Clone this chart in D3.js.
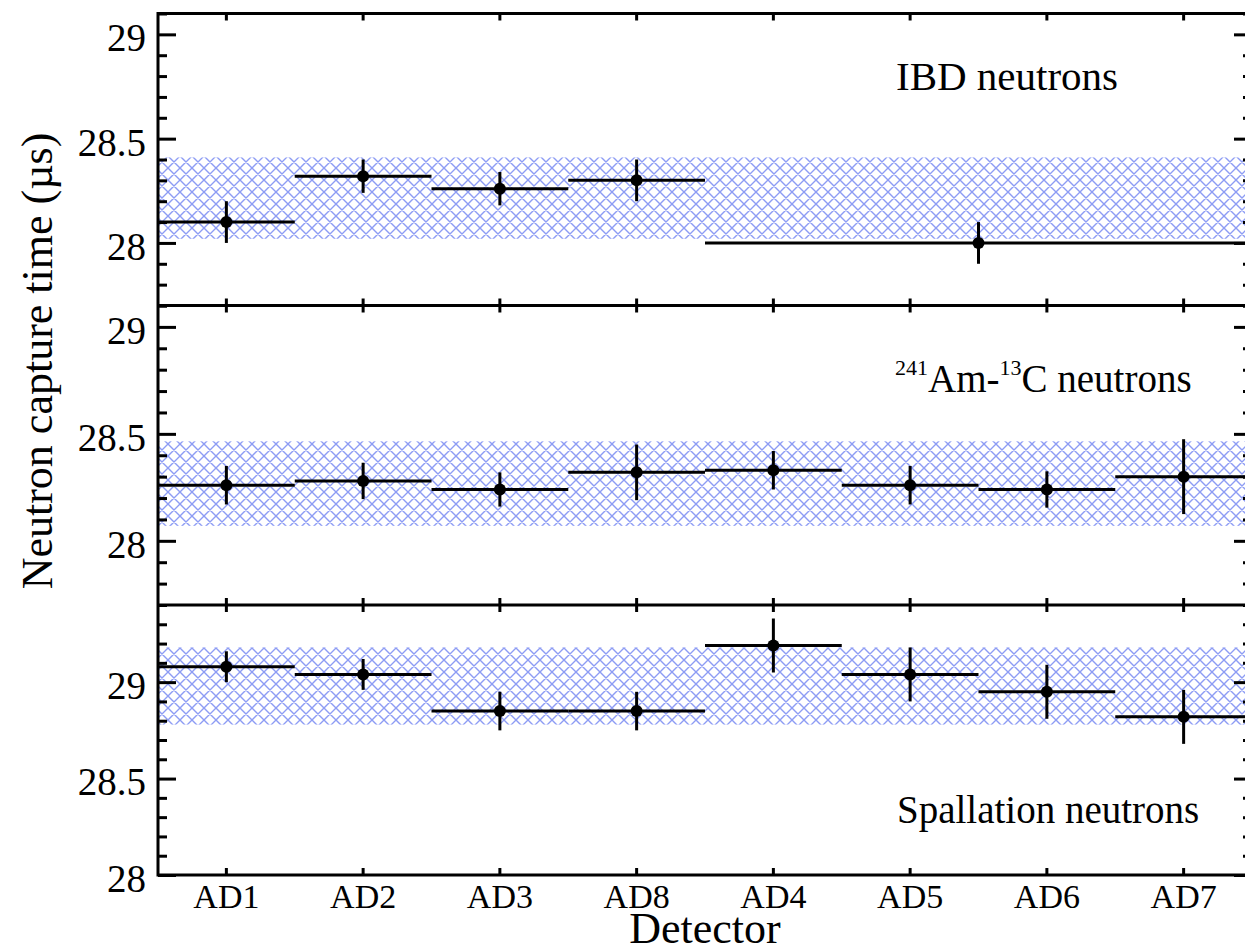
<!DOCTYPE html>
<html>
<head>
<meta charset="utf-8">
<script src="https://cdn.jsdelivr.net/npm/d3@7"></script>
<style>
  body { margin: 0; background: #fff; }
  text { font-family: "Liberation Serif", "Times New Roman", serif; fill: #000; }
</style>
</head>
<body>
<div id="chart"></div>
<script>
// detectors in plotting order
var detectors = ["AD1", "AD2", "AD3", "AD8", "AD4", "AD5", "AD6", "AD7"];

// IBD: AD4-AD7 only have one combined measurement
var ibdFrom = ["AD1", "AD2", "AD3", "AD8", "AD4"];
var ibdTo = ["AD1", "AD2", "AD3", "AD8", "AD7"];
var ibdValue = [28.10, 28.32, 28.26, 28.30, 28.00];
var ibdError = [0.10, 0.08, 0.08, 0.10, 0.10];
var ibdBand = [28.02, 28.41];

// 241Am-13C source
var amcValue = [28.26, 28.28, 28.24, 28.32, 28.33, 28.26, 28.24, 28.30];
var amcError = [0.09, 0.085, 0.08, 0.13, 0.09, 0.09, 0.085, 0.175];
var amcBand = [28.07, 28.465];

// spallation
var splValue = [29.08, 29.04, 28.85, 28.85, 29.19, 29.04, 28.95, 28.82];
var splError = [0.08, 0.08, 0.10, 0.10, 0.14, 0.14, 0.14, 0.14];
var splBand = [28.78, 29.18];

var majorTicks = [28, 28.5, 29];

var width = 1245, height = 947;
var left = 158, right = 1252;

var svg = d3.select("#chart")
  .append("svg")
  .attr("width", width)
  .attr("height", height);

// blue cross hatch
var pat = svg.append("defs").append("pattern")
  .attr("id", "hatch")
  .attr("patternUnits", "userSpaceOnUse")
  .attr("width", 12)
  .attr("height", 12);
pat.append("path")
  .attr("d", "M0,0L12,12M12,0L0,12M-1,11L1,13M11,-1L13,1M-1,1L1,-1M11,13L13,11")
  .style("stroke", "#8d9cf4")
  .style("stroke-width", 1.4)
  .style("fill", "none");

var x = d3.scaleBand().domain(detectors).range([left, right]);

var panels = [
  { top: 13.5, bottom: 305.5, domain: [27.7, 29.1], band: ibdBand,
    pts: ibdValue.map(function(v, i) {
      return { x0: x(ibdFrom[i]), x1: x(ibdTo[i]) + x.bandwidth(), v: v, e: ibdError[i] };
    }) },
  { top: 305.5, bottom: 605, domain: [27.7, 29.1], band: amcBand,
    pts: amcValue.map(function(v, i) {
      return { x0: x(detectors[i]), x1: x(detectors[i]) + x.bandwidth(), v: v, e: amcError[i] };
    }) },
  { top: 605, bottom: 875, domain: [28, 29.4], band: splBand,
    pts: splValue.map(function(v, i) {
      return { x0: x(detectors[i]), x1: x(detectors[i]) + x.bandwidth(), v: v, e: splError[i] };
    }) }
];

panels.forEach(function(p, pi) {
  var y = d3.scaleLinear().domain(p.domain).range([p.bottom, p.top]);
  var g = svg.append("g");

  // error band
  g.append("rect")
    .attr("x", left)
    .attr("y", y(p.band[1]))
    .attr("width", right - left)
    .attr("height", y(p.band[0]) - y(p.band[1]))
    .attr("fill", "url(#hatch)");

  // minor ticks every 0.1
  var minor = d3.range(Math.ceil(p.domain[0] * 10), Math.floor(p.domain[1] * 10) + 1)
    .map(function(d) { return d / 10; })
    .filter(function(d) { return majorTicks.indexOf(d) < 0; });
  var major = majorTicks.filter(function(d) { return d >= p.domain[0] && d <= p.domain[1]; });

  [[left, d3.axisLeft], [right, d3.axisRight]].forEach(function(s) {
    g.append("g")
      .attr("class", "axis")
      .attr("transform", "translate(" + s[0] + ",0)")
      .call(s[1](y).tickValues(minor).tickSize(-9).tickFormat(""));
    g.append("g")
      .attr("class", "axis")
      .attr("transform", "translate(" + s[0] + ",0)")
      .call(s[1](y).tickValues(major).tickSize(-18).tickFormat(s[0] == left ? d3.format("") : ""));
  });

  g.append("g")
    .attr("class", "axis")
    .attr("transform", "translate(0," + p.top + ")")
    .call(d3.axisTop(x).tickSize(-7).tickFormat(""));
  g.append("g")
    .attr("class", "axis xb")
    .attr("transform", "translate(0," + p.bottom + ")")
    .call(d3.axisBottom(x).tickSize(-7).tickFormat(pi == 2 ? null : ""));

  // horizontal bin lines
  g.selectAll(".bin")
    .data(p.pts)
    .enter()
    .append("line")
    .attr("x1", function(d) { return d.x0; })
    .attr("x2", function(d) { return d.x1; })
    .attr("y1", function(d) { return y(d.v); })
    .attr("y2", function(d) { return y(d.v); })
    .style("stroke", "black")
    .style("stroke-width", 3);

  g.selectAll(".err")
    .data(p.pts)
    .enter()
    .append("line")
    .attr("x1", function(d) { return (d.x0 + d.x1) / 2; })
    .attr("x2", function(d) { return (d.x0 + d.x1) / 2; })
    .attr("y1", function(d) { return y(d.v - d.e); })
    .attr("y2", function(d) { return y(d.v + d.e); })
    .style("stroke", "black")
    .style("stroke-width", 3);

  g.selectAll(".dot")
    .data(p.pts)
    .enter()
    .append("circle")
    .attr("cx", function(d) { return (d.x0 + d.x1) / 2; })
    .attr("cy", function(d) { return y(d.v); })
    .attr("r", 6)
    .attr("fill", "black");
});

// axis styling
svg.selectAll(".axis path").remove();
svg.selectAll(".axis line").style("stroke", "black").style("stroke-width", 3);
svg.selectAll(".axis text")
  .style("font-family", "'Liberation Serif', serif")
  .attr("font-size", 39)
  .attr("x", -12)
  .attr("dy", "0.42em");
svg.selectAll(".xb text")
  .attr("font-size", 34)
  .attr("x", 0)
  .attr("y", 0)
  .attr("dy", 33);

// frames
[13.5, 305.5, 605, 875].forEach(function(yy) {
  svg.append("line")
    .attr("x1", left).attr("x2", right)
    .attr("y1", yy).attr("y2", yy)
    .style("stroke", "black").style("stroke-width", 3);
});
[left, right].forEach(function(xx) {
  svg.append("line")
    .attr("x1", xx).attr("x2", xx)
    .attr("y1", 12).attr("y2", 876.5)
    .style("stroke", "black").style("stroke-width", 3);
});

// panel labels
svg.append("text")
  .attr("x", 896).attr("y", 90)
  .attr("font-size", 41)
  .text("IBD neutrons");

var am = svg.append("text")
  .attr("x", 895).attr("y", 392)
  .attr("font-size", 39);
am.append("tspan").attr("font-size", 22).attr("dy", -17).text("241");
am.append("tspan").attr("dy", 17).text("Am-");
am.append("tspan").attr("font-size", 22).attr("dy", -17).text("13");
am.append("tspan").attr("dy", 17).text("C neutrons");

svg.append("text")
  .attr("x", 897).attr("y", 823)
  .attr("font-size", 39)
  .text("Spallation neutrons");

// axis titles
svg.append("text")
  .attr("transform", "translate(52,361) rotate(-90)")
  .style("text-anchor", "middle")
  .attr("font-size", 44)
  .text("Neutron capture time (µs)");

svg.append("text")
  .attr("x", (left + right) / 2)
  .attr("y", 943)
  .style("text-anchor", "middle")
  .attr("font-size", 44)
  .text("Detector");
</script>
</body>
</html>
